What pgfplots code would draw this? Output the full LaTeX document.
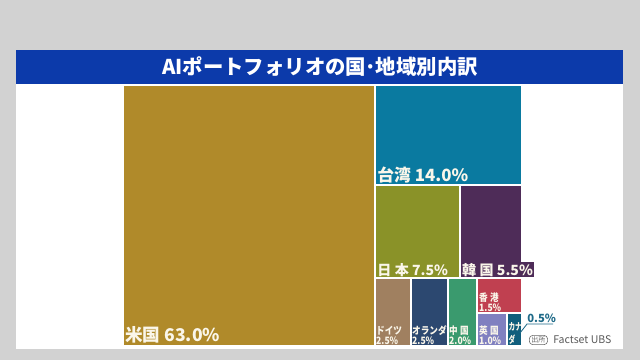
\documentclass[border=0pt]{standalone}
\usepackage{pgfplots}
\pgfplotsset{compat=1.18}
\usepackage{fontspec}
\setmainfont{Noto Sans CJK JP}
\definecolor{bgray}{HTML}{D2D2D2}
\definecolor{titleblue}{HTML}{0C3AAA}
\definecolor{cUS}{HTML}{B08A2A}
\definecolor{cTW}{HTML}{0A7AA0}
\definecolor{cJP}{HTML}{8A9228}
\definecolor{cKR}{HTML}{4E2C58}
\definecolor{cDE}{HTML}{A08060}
\definecolor{cNL}{HTML}{2C4870}
\definecolor{cCN}{HTML}{3A9A6E}
\definecolor{cHK}{HTML}{C04050}
\definecolor{cUK}{HTML}{8080C0}
\definecolor{cCA}{HTML}{105E7C}
\definecolor{lab}{HTML}{FAF6EA}
\definecolor{leader}{HTML}{1E6A88}
\begin{document}
\begin{tikzpicture}
\fill[bgray] (0,0) rectangle (16,9);
\begin{axis}[at={(0,0)},anchor=south west,scale only axis, width=16cm, height=9cm,
  xmin=0, xmax=640, ymin=0, ymax=360, y dir=reverse, hide axis, clip=false]
% panel and title bar
\addplot[fill=white, draw=none] coordinates {(16,83) (623,83) (623,349) (16,349)} --cycle;
\addplot[fill=titleblue, draw=none] coordinates {(16,50) (623,50) (623,83.5) (16,83.5)} --cycle;
% treemap rectangles (x0,y0)-(x1,y1)
\addplot[fill=cUS, draw=white, line width=0.8pt] coordinates {(123,85) (375,85) (375,346) (123,346)} --cycle;
\addplot[fill=cTW, draw=white, line width=0.8pt] coordinates {(375,85) (522,85) (522,185) (375,185)} --cycle;
\addplot[fill=cJP, draw=white, line width=0.8pt] coordinates {(375,185) (460,185) (460,278) (375,278)} --cycle;
\addplot[fill=cKR, draw=white, line width=0.8pt] coordinates {(460,185) (522,185) (522,278) (460,278)} --cycle;
\addplot[fill=cDE, draw=white, line width=0.8pt] coordinates {(375,278) (411,278) (411,346) (375,346)} --cycle;
\addplot[fill=cNL, draw=white, line width=0.8pt] coordinates {(411,278) (448,278) (448,346) (411,346)} --cycle;
\addplot[fill=cCN, draw=white, line width=0.8pt] coordinates {(448,278) (477,278) (477,346) (448,346)} --cycle;
\addplot[fill=cHK, draw=white, line width=0.8pt] coordinates {(477,278) (522,278) (522,313) (477,313)} --cycle;
\addplot[fill=cUK, draw=white, line width=0.8pt] coordinates {(477,313) (507,313) (507,346) (477,346)} --cycle;
\addplot[fill=cCA, draw=white, line width=0.8pt] coordinates {(507,313) (522,313) (522,346) (507,346)} --cycle;
% leader for 0.5%
\addplot[leader, line width=0.6pt] coordinates {(520,333) (527,324) (553,324)};
% title
\node[text=white, font=\fontsize{14.5}{17}\selectfont\bfseries, anchor=center] at (axis cs:320,67) {AIポートフォリオの国\kern-1pt·\kern-1pt 地域別内訳};
% labels
\node[text=lab, font=\fontsize{12.5}{14}\selectfont\bfseries, anchor=base west, inner sep=0pt] at (axis cs:125,341) {米国 63.0\%};
\node[text=lab, font=\fontsize{12}{14}\selectfont\bfseries, anchor=base west, inner sep=0pt] at (axis cs:377,181) {台湾 14.0\%};
\node[text=lab, font=\fontsize{10}{12}\selectfont\bfseries, anchor=base west, inner sep=0pt] at (axis cs:377,275) {日\hspace{2.5pt}本 7.5\%};
\node[text=lab, font=\fontsize{10}{12}\selectfont\bfseries, anchor=base west, inner sep=0.6pt, fill=cKR] at (axis cs:461,275) {韓\hspace{2.5pt}国 5.5\%};
\begin{scope}[every node/.style={text=lab, font=\fontsize{7.2}{7.2}\selectfont\bfseries, anchor=south west, inner sep=0pt, align=left, xscale=0.85}]
\node at (axis cs:376,345) {ドイツ\\2.5\%};
\node at (axis cs:412,345) {オランダ\\2.5\%};
\node at (axis cs:449,345) {中\hspace{2pt}国\\2.0\%};
\node at (axis cs:479,312) {香\hspace{2pt}港\\1.5\%};
\node at (axis cs:479,345) {英\hspace{2pt}国\\1.0\%};
\end{scope}
\node[text=lab, font=\fontsize{7}{9.5}\selectfont\bfseries, anchor=south west, inner sep=0pt, align=left, xscale=0.68] at (axis cs:508.3,345) {カナ\\ダ};
\node[text=leader, font=\fontsize{8}{9}\selectfont\bfseries, anchor=base west, inner sep=0pt] at (axis cs:527,322) {0.5\%};
% source
\node[draw=gray!80!black, rounded corners=2.5pt, text=gray!80!black, font=\fontsize{5}{6}\selectfont, inner xsep=1.5pt, inner ysep=1pt, anchor=west] at (axis cs:529,340) {出所};
\node[text=gray!70!black, font=\fontsize{7.5}{9}\selectfont, anchor=west, inner sep=0pt] at (axis cs:553,340) {Factset UBS};
\end{axis}
\end{tikzpicture}
\end{document}
